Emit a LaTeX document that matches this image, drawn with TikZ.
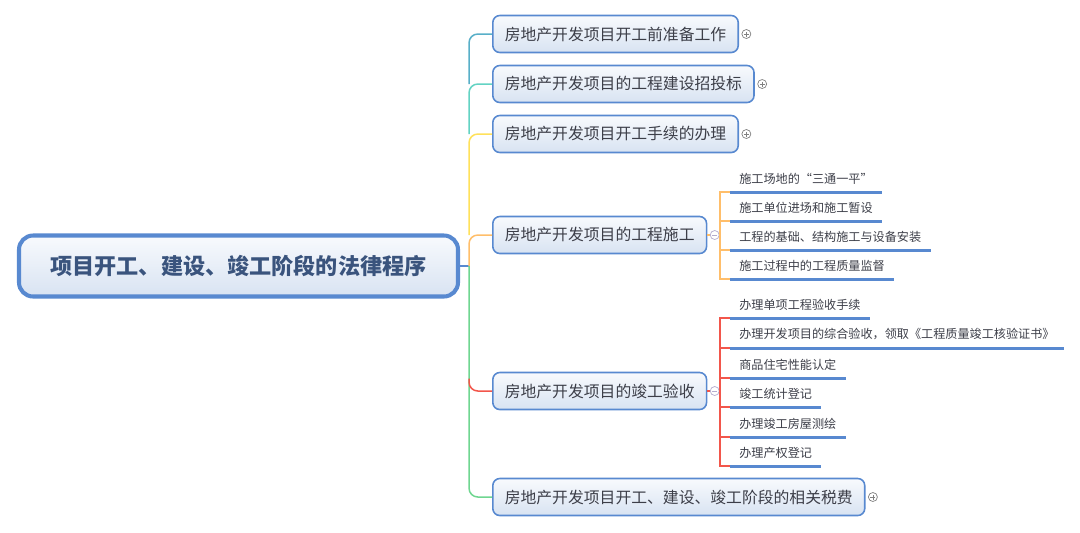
\documentclass[tikz,border=0pt]{standalone}
\usepackage{fontspec}
\setmainfont{Noto Sans CJK SC}
\usetikzlibrary{positioning, calc}
\definecolor{BoxBlue}   {RGB}{ 88, 137, 208}
\definecolor{BoxTop}    {RGB}{248, 250, 253}
\definecolor{BoxBottom} {RGB}{216, 227, 242}
\definecolor{RootInk}   {RGB}{ 58,  84, 125}
\definecolor{TopicInk}  {RGB}{ 60,  62,  72}
\definecolor{BrSteel}   {RGB}{ 88, 175, 200}
\definecolor{BrAqua}    {RGB}{ 99, 211, 195}
\definecolor{BrYellow}  {RGB}{255, 225,  90}
\definecolor{BrOrange}  {RGB}{255, 190, 106}
\definecolor{BrRed}     {RGB}{242,  86,  75}
\definecolor{BrGreen}   {RGB}{111, 214, 144}
\definecolor{IconGray}  {RGB}{128, 128, 128}
\definecolor{IconLilac} {RGB}{180, 172, 207}
\tikzset{
  % Central topic
  root/.style={
    rectangle, rounded corners=8pt,
    draw=BoxBlue, line width=2.3pt,
    top color=BoxTop, bottom color=BoxBottom,
    text=RootInk, font=\fontsize{12.6}{15}\selectfont\bfseries,
    minimum width=8.78cm, minimum height=1.22cm
  },
  % Main topics
  topic/.style={
    rectangle, rounded corners=4pt,
    draw=BoxBlue, line width=0.9pt,
    top color=BoxTop, bottom color=BoxBottom,
    text=TopicInk, font=\fontsize{9}{11}\selectfont,
    inner xsep=0.24cm, minimum height=0.74cm, anchor=west
  },
  % Subtopics (underlined text)
  subtopic/.style={
    font=\fontsize{6.9}{8}\selectfont, text=TopicInk,
    inner xsep=0.18cm, inner ysep=0.15cm, anchor=south west
  },
  uline/.style={line width=1.7pt, color=BoxBlue},
  % Connectors
  branch/.style={line width=0.85pt, rounded corners=5pt},
  twig/.style={line width=0.85pt},
  % Fold markers
  expand/.style={
    circle, draw=IconGray, fill=white, line width=0.4pt,
    minimum size=0.18cm, inner sep=0pt,
    path picture={
      \draw[IconGray, line width=0.4pt]
        ([xshift=-0.05cm]path picture bounding box.center) -- ([xshift=0.05cm]path picture bounding box.center)
        ([yshift=-0.05cm]path picture bounding box.center) -- ([yshift=0.05cm]path picture bounding box.center);
    }
  },
  collapse/.style={
    circle, draw=IconLilac, fill=white, line width=0.4pt,
    minimum size=0.18cm, inner sep=0pt,
    path picture={
      \draw[IconLilac, line width=0.4pt]
        ([xshift=-0.05cm]path picture bounding box.center) -- ([xshift=0.05cm]path picture bounding box.center);
    }
  }
}

\begin{document}
\begin{tikzpicture}

  \useasboundingbox (0,0) rectangle (21.6,-10.64);

  % ── Central topic ─────────────────────────────────────────────
  \node[root] (root) at (4.77,-5.32) {项目开工、建设、竣工阶段的法律程序};
  \coordinate (hub) at (9.38,-5.32);

  % ── Main topics ───────────────────────────────────────────────
  \node[topic] (prep)   at (9.84,-0.68) {房地产开发项目开工前准备工作};
  \node[topic] (bid)    at (9.84,-1.68) {房地产开发项目的工程建设招投标};
  \node[topic] (permit) at (9.84,-2.68) {房地产开发项目开工手续的办理};
  \node[topic] (build)  at (9.84,-4.70) {房地产开发项目的工程施工};
  \node[topic] (accept) at (9.84,-7.82) {房地产开发项目的竣工验收};
  \node[topic] (tax)    at (9.84,-9.94) {房地产开发项目开工、建设、竣工阶段的相关税费};

  % ── Fold markers ──────────────────────────────────────────────
  \node[expand,   right=0.05cm of prep]   (prep_fold)   {};
  \node[expand,   right=0.05cm of bid]    (bid_fold)    {};
  \node[expand,   right=0.05cm of permit] (permit_fold) {};
  \node[collapse, right=0.05cm of build]  (build_fold)  {};
  \node[collapse, right=0.05cm of accept] (accept_fold) {};
  \node[expand,   right=0.05cm of tax]    (tax_fold)    {};

  % ── Subtopics: construction ───────────────────────────────────
  \node[subtopic] (site)   at (14.60,-3.84) {施工场地的“三通一平”};
  \node[subtopic] (entry)  at (14.60,-4.42) {施工单位进场和施工暂设};
  \node[subtopic] (found)  at (14.60,-5.00) {工程的基础、结构施工与设备安装};
  \node[subtopic] (qual)   at (14.60,-5.58) {施工过程中的工程质量监督};

  % ── Subtopics: completion acceptance ──────────────────────────
  \node[subtopic] (single) at (14.60,-6.36) {办理单项工程验收手续};
  \node[subtopic] (overall)at (14.60,-6.96) {办理开发项目的综合验收，领取《工程质量竣工核验证书》};
  \node[subtopic] (perf)   at (14.60,-7.56) {商品住宅性能认定};
  \node[subtopic] (stats)  at (14.60,-8.14) {竣工统计登记};
  \node[subtopic] (survey) at (14.60,-8.74) {办理竣工房屋测绘};
  \node[subtopic] (title)  at (14.60,-9.32) {办理产权登记};

  \foreach \s in {site, entry, found, qual, single, overall, perf, stats, survey, title}
    \draw[uline] (\s.south west) -- (\s.south east);

  % ── Edges: central topic → main topics ────────────────────────
  \draw[twig, BoxBlue] (root.east) -- (hub);
  \draw[branch, BrSteel]  (hub |- bid.west) |- (prep.west);
  \draw[branch, BrAqua]   (hub |- permit.west) |- (bid.west);
  \draw[branch, BrYellow] (hub |- build.west) |- (permit.west);
  \draw[branch, BrOrange] (hub) |- (build.west);
  \draw[branch, BrGreen]  (hub) |- (tax.west);
  \draw[branch, BrRed]    ($(hub |- accept.west)+(0,0.25)$) |- (accept.west);

  % ── Edges: main topics → subtopics ────────────────────────────
  \coordinate (build_j)  at (14.40,-4.70);
  \coordinate (accept_j) at (14.40,-7.82);

  \draw[twig, BrOrange] (build.east) -- (build_fold.west);
  \draw[twig, BrOrange] (build_fold.east) -- (build_j);
  \foreach \s in {site, entry, found, qual}
    \draw[twig, BrOrange] (build_j) |- (\s.south west);

  \draw[twig, BrRed] (accept.east) -- (accept_fold.west);
  \draw[twig, BrRed] (accept_fold.east) -- (accept_j);
  \foreach \s in {single, overall, perf, stats, survey, title}
    \draw[twig, BrRed] (accept_j) |- (\s.south west);

\end{tikzpicture}
\end{document}
